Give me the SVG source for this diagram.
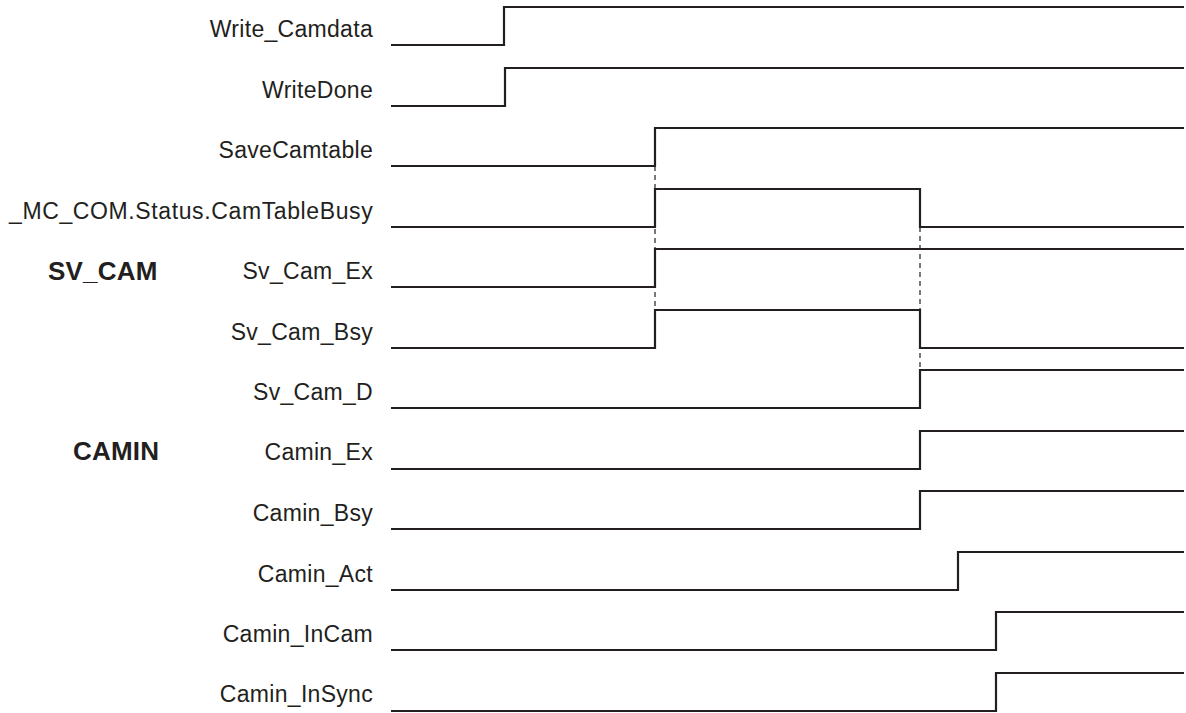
<svg xmlns="http://www.w3.org/2000/svg" width="1186" height="713" viewBox="0 0 1186 713">
<style>
.sig{fill:none;stroke:#231f20;stroke-width:2.2;stroke-linejoin:miter}
.dash{fill:none;stroke:#231f20;stroke-width:1.2;stroke-dasharray:5 4}
.lbl{font-family:"Liberation Sans",Arial,sans-serif;font-size:23px;fill:#231f20;text-anchor:end;letter-spacing:0.3px}
.grp{font-family:"Liberation Sans",Arial,sans-serif;font-size:26px;font-weight:bold;fill:#231f20;letter-spacing:0.2px}
</style>
<rect width="1186" height="713" fill="#fff"/>
<g id="connectors">
<path class="dash" d="M655,166 V310"/>
<path class="dash" d="M920,227 V370"/>
</g>
<g id="group-labels">
<text class="grp" x="48" y="280">SV_CAM</text>
<text class="grp" x="73" y="460">CAMIN</text>
</g>
<g id="sig-write-camdata"><text class="lbl" x="373" y="37">Write_Camdata</text><path class="sig" d="M391,45 H504 V7 H1184"/></g>
<g id="sig-writedone"><text class="lbl" x="373" y="98">WriteDone</text><path class="sig" d="M391,106 H505 V68 H1184"/></g>
<g id="sig-savecamtable"><text class="lbl" x="373" y="158">SaveCamtable</text><path class="sig" d="M391,166 H655 V128 H1184"/></g>
<g id="sig-camtablebusy"><text class="lbl" x="373" y="219" textLength="364" lengthAdjust="spacing">_MC_COM.Status.CamTableBusy</text><path class="sig" d="M391,227 H655 V189 H920 V227 H1184"/></g>
<g id="sig-sv-cam-ex"><text class="lbl" x="373" y="279">Sv_Cam_Ex</text><path class="sig" d="M391,287 H655 V249 H1184"/></g>
<g id="sig-sv-cam-bsy"><text class="lbl" x="373" y="340">Sv_Cam_Bsy</text><path class="sig" d="M391,348 H655 V310 H920 V348 H1184"/></g>
<g id="sig-sv-cam-d"><text class="lbl" x="373" y="400">Sv_Cam_D</text><path class="sig" d="M391,408 H920 V370 H1184"/></g>
<g id="sig-camin-ex"><text class="lbl" x="373" y="460">Camin_Ex</text><path class="sig" d="M391,469 H920 V431 H1184"/></g>
<g id="sig-camin-bsy"><text class="lbl" x="373" y="521">Camin_Bsy</text><path class="sig" d="M391,529 H920 V491 H1184"/></g>
<g id="sig-camin-act"><text class="lbl" x="373" y="582">Camin_Act</text><path class="sig" d="M391,590 H958 V552 H1184"/></g>
<g id="sig-camin-incam"><text class="lbl" x="373" y="642">Camin_InCam</text><path class="sig" d="M391,650 H996 V612 H1184"/></g>
<g id="sig-camin-insync"><text class="lbl" x="373" y="702">Camin_InSync</text><path class="sig" d="M391,711 H996 V673 H1184"/></g>
</svg>
